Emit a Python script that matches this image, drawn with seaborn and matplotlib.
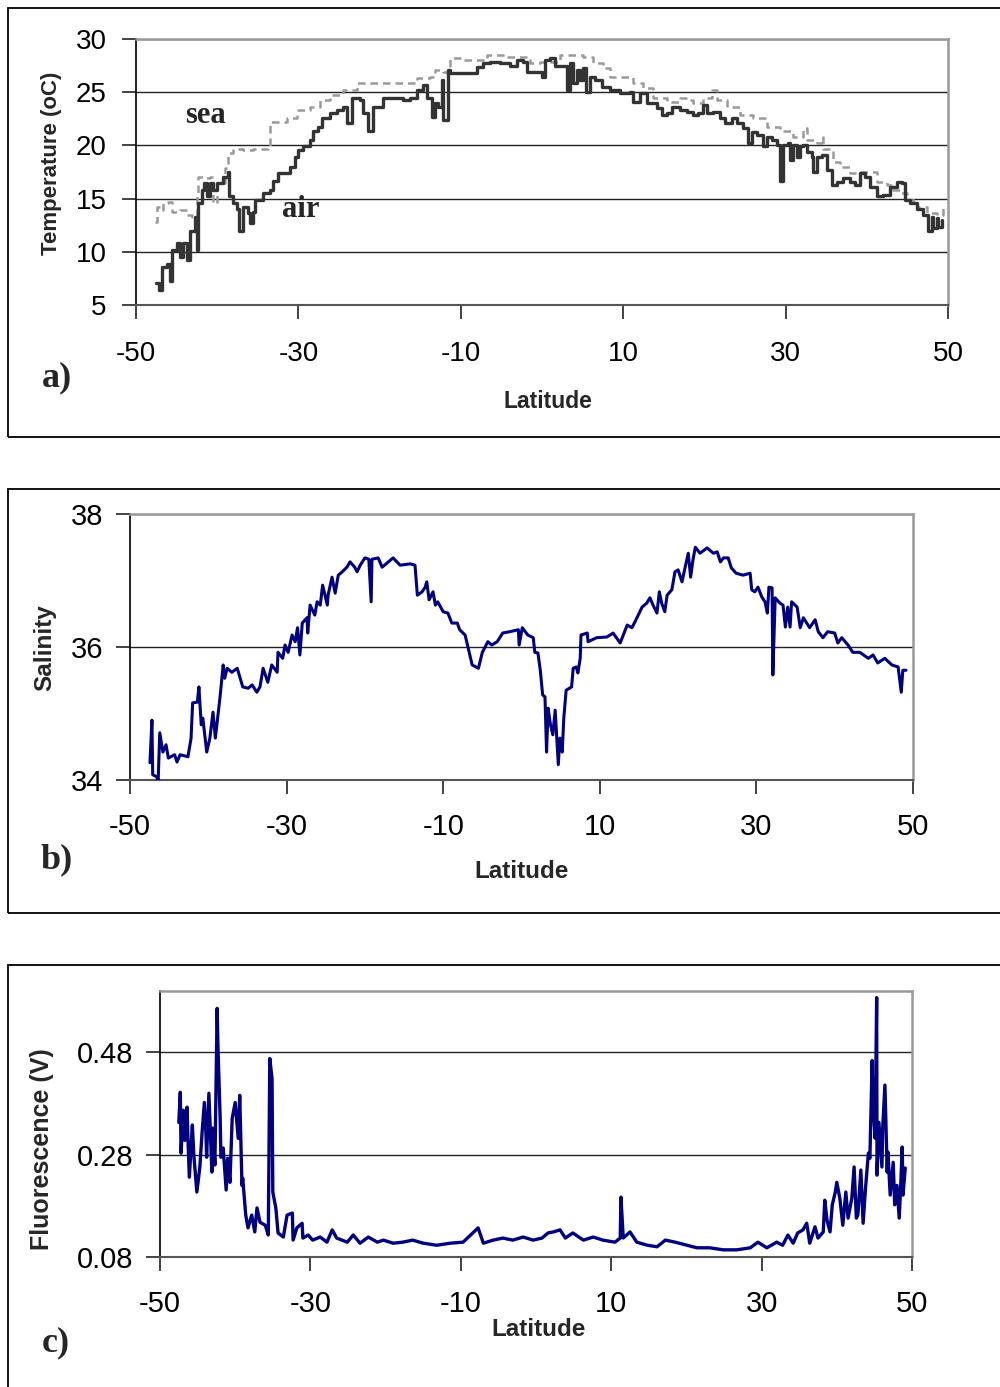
import matplotlib
matplotlib.use("Agg")
import matplotlib.pyplot as plt
import seaborn as sns
import pandas as pd
from matplotlib.patches import Rectangle

# ---------------- data ----------------
air_lat = [-47.5, -47.2, -46.8, -46.2, -45.8, -45.6, -45.0, -44.6, -44.2, -43.7, -43.3, -42.7, -42.5, -42.4,
           -41.9, -41.6, -41.3, -40.9, -40.5, -40.0, -39.3, -38.7, -38.5, -38.0, -37.6, -37.3, -36.8, -36.2,
           -36.0, -35.6, -35.3, -34.7, -34.4, -33.5, -33.1, -32.5, -31.9, -31.0, -30.4, -30.0, -29.4, -28.6,
           -28.2, -27.6, -27.1, -26.1, -25.3, -24.5, -24.0, -23.4, -22.4, -22.0, -21.4, -20.8, -19.6, -18.3,
           -17.1, -16.3, -15.4, -14.7, -14.2, -13.5, -13.2, -12.8, -12.3, -12.2, -11.6, -11.3, -10.1, -8.5,
           -8.0, -7.3, -6.4, -5.2, -3.9, -3.1, -2.3, -1.8, -0.2, 0.0, 0.4, 1.0, 1.6, 2.6, 3.1, 3.4, 3.8, 4.3,
           4.7, 5.0, 5.4, 5.9, 6.5, 7.4, 8.4, 9.6, 10.8, 11.2, 12.1, 12.9, 14.2, 14.8, 15.4, 16.0, 17.0, 17.9,
           18.6, 19.2, 19.8, 20.3, 21.1, 21.9, 22.5, 23.4, 24.0, 24.8, 25.4, 25.9, 26.5, 27.2, 27.7, 28.3,
           28.9, 29.3, 29.7, 30.3, 30.5, 30.9, 31.4, 31.8, 32.1, 32.6, 33.3, 33.4, 33.9, 34.5, 35.1, 35.7,
           36.3, 37.1, 37.9, 38.5, 39.2, 39.8, 40.4, 41.3, 42.0, 42.9, 43.7, 44.3, 44.7, 45.3, 46.2, 46.9,
           47.5, 48.0, 48.2, 48.6, 48.8, 49.2]
air_temp = [7.1, 6.4, 8.6, 8.9, 7.3, 10.2, 10.8, 9.5, 10.8, 9.2, 12.0, 13.3, 10.2, 14.6,
            15.8, 16.5, 15.2, 16.5, 15.8, 16.5, 17.0, 17.5, 15.2, 14.6, 14.0, 12.0, 14.2, 13.6,
            12.7, 13.7, 14.9, 14.9, 15.5, 15.8, 16.7, 17.4, 17.4, 18.0, 18.9, 19.6, 19.9, 20.5,
            21.4, 21.7, 22.6, 23.0, 23.3, 23.6, 22.1, 24.5, 24.3, 23.0, 21.4, 23.6, 24.5, 24.5,
            24.3, 24.5, 25.2, 25.7, 24.5, 22.7, 24.0, 23.6, 26.1, 22.4, 27.1, 26.8, 26.8, 26.8,
            27.4, 27.7, 27.8, 27.7, 27.5, 28.0, 27.8, 26.9, 26.9, 26.4, 28.0, 28.2, 27.5, 27.5, 25.2, 27.7, 25.9, 27.1,
            26.1, 27.3, 25.0, 26.4, 26.1, 25.5, 25.2, 24.9, 25.0, 24.1, 24.9, 24.0, 23.5, 22.9, 23.0, 23.6, 23.3, 23.1,
            22.9, 23.0, 23.8, 23.0, 23.1, 22.6, 22.1, 22.6, 22.1, 21.6, 20.2, 21.3, 21.0, 19.9, 20.8, 20.5,
            20.0, 16.7, 20.0, 20.2, 18.6, 20.0, 18.9, 19.9, 20.0, 19.4, 18.9, 17.5, 18.9, 19.1, 17.7, 16.3,
            16.6, 16.9, 16.6, 16.3, 17.4, 17.0, 16.1, 15.2, 15.3, 16.1, 16.6, 16.5, 14.9, 14.6, 14.0, 13.5,
            12.0, 13.3, 12.2, 13.2, 12.3, 13.0]

sea_lat = [-47.6, -47.4, -47.0, -46.7, -46.1, -45.6, -44.6, -43.7, -43.1, -42.5, -42.4, -41.7, -40.9, -40.5,
           -40.0, -39.0, -38.7, -38.1, -36.8, -35.6, -33.7, -33.5, -32.6, -31.4, -30.2, -28.6, -27.3, -26.1,
           -24.5, -22.8, -21.2, -18.7, -16.6, -15.4, -13.8, -13.2, -12.2, -11.3, -9.7, -8.0, -6.8, -4.8, -2.7,
           -1.5, -0.2, 2.2, 3.8, 5.0, 6.3, 7.5, 8.4, 9.6, 11.2, 12.4, 13.7, 15.4, 17.0, 17.9, 18.6, 19.8, 20.9,
           21.5, 22.8, 24.4, 26.0, 27.7, 29.3, 30.9, 32.1, 32.6, 33.9, 34.5, 34.6, 35.5, 35.8, 36.7, 37.9,
           39.2, 40.4, 41.3, 42.5, 43.2, 44.1, 45.0, 46.2, 47.4, 48.6, 49.4]
sea_temp = [12.8, 14.2, 13.9, 14.6, 14.7, 13.7, 13.9, 13.5, 13.3, 15.5, 17.0, 16.9, 17.0, 14.6,
            16.5, 17.9, 19.3, 19.7, 19.6, 19.7, 19.9, 22.2, 22.2, 22.6, 23.3, 23.6, 24.3, 24.7,
            25.2, 25.9, 25.9, 25.9, 25.9, 26.3, 26.4, 27.1, 26.9, 28.2, 28.0, 28.0, 28.5, 28.3, 28.3,
            27.7, 27.8, 28.5, 28.5, 28.3, 27.7, 27.3, 26.4, 26.4, 25.9, 25.4, 24.5, 24.1, 24.5, 24.3, 24.0, 24.5, 25.2,
            24.3, 23.6, 22.9, 22.6, 21.7, 21.4, 20.8, 21.6, 20.5, 20.2, 20.8, 19.7, 19.6, 18.4, 18.0, 17.4,
            17.5, 17.5, 16.6, 16.3, 15.8, 15.5, 14.9, 14.2, 13.6, 13.5, 14.2]

sal_lat = [-47.45, -47.2, -47.1, -46.6, -46.4, -46.2, -45.8, -45.4, -45.1, -44.3, -44.0, -43.6, -42.6, -42.2,
           -42.0, -41.4, -41.2, -40.9, -40.7, -40.2, -39.8, -39.4, -39.1, -38.5, -38.1, -37.9, -37.6, -37.0,
           -36.3, -35.6, -34.9, -34.4, -33.8, -33.4, -33.0, -32.4, -31.9, -31.2, -31.1, -30.5, -30.2, -29.8,
           -29.3, -28.9, -28.6, -28.3, -28.0, -27.4, -27.3, -27.0, -26.4, -26.1, -25.7, -25.4, -24.8, -24.7,
           -24.2, -23.8, -23.4, -22.9, -22.3, -21.9, -21.3, -21.0, -20.6, -20.0, -19.5, -19.2, -19.1, -18.3,
           -17.8, -17.2, -16.4, -15.5, -14.2, -13.6, -13.3, -12.7, -12.3, -12.1, -11.8, -11.3, -11.0, -10.7,
           -10.0, -9.4, -8.9, -8.2, -7.9, -7.2, -6.8, -6.3, -5.5, -5.0, -4.3, -3.8, -3.1, -2.4, -1.5, -0.4,
           -0.3, 0.1, 0.8, 1.5, 1.7, 2.1, 2.4, 2.7, 3.0, 3.2, 3.4, 3.7, 4.0, 4.3, 4.5, 4.7, 4.9, 5.2, 5.4,
           5.7, 6.4, 6.6, 7.0, 7.2, 7.5, 7.6, 8.4, 8.5, 9.6, 10.9, 11.7, 12.6, 13.5, 14.1, 14.5, 15.4, 16.0,
           16.4, 16.8, 17.3, 17.6, 17.9, 18.3, 18.6, 19.2, 19.6, 20.0, 20.5, 20.9, 21.3, 21.6, 21.9, 22.2,
           22.8, 23.7, 24.5, 25.0, 25.4, 25.8, 26.4, 26.8, 27.4, 28.3, 29.2, 29.4, 29.8, 30.2, 30.7, 31.1,
           31.4, 31.6, 32.0, 32.1, 32.4, 33.0, 33.4, 33.7, 34.0, 34.3, 34.5, 35.2, 35.6, 36.0, 36.8, 37.5,
           37.9, 38.5, 39.1, 40.0, 40.4, 40.9, 41.7, 42.3, 43.2, 44.3, 44.9, 45.5, 46.4, 47.3, 48.1, 48.5,
           48.7, 49.1]
sal_val = [34.26, 34.90, 34.08, 34.05, 34.00, 34.71, 34.42, 34.53, 34.33, 34.38, 34.27, 34.38, 34.35, 34.63,
           35.16, 35.17, 35.40, 34.83, 34.93, 34.42, 34.63, 35.02, 34.63, 35.25, 35.73, 35.53, 35.68, 35.62,
           35.68, 35.40, 35.38, 35.43, 35.32, 35.40, 35.68, 35.47, 35.73, 35.62, 35.92, 35.83, 36.03, 35.92,
           36.18, 36.08, 36.29, 35.88, 36.36, 36.44, 36.21, 36.63, 36.48, 36.68, 36.63, 36.93, 36.63, 36.78,
           37.05, 36.81, 37.08, 37.13, 37.20, 37.28, 37.20, 37.13, 37.23, 37.34, 37.32, 36.68, 37.32, 37.34,
           37.20, 37.26, 37.34, 37.23, 37.25, 37.23, 36.78, 36.83, 36.90, 36.98, 36.71, 36.83, 36.63, 36.68,
           36.53, 36.51, 36.36, 36.36, 36.26, 36.18, 35.98, 35.73, 35.68, 35.92, 36.08, 36.03, 36.08, 36.21, 36.23, 36.26,
           36.03, 36.29, 36.18, 36.14, 35.92, 35.91, 35.65, 35.28, 35.25, 34.42, 35.08, 34.83, 34.68, 35.05, 34.63, 34.23, 34.63, 34.42, 34.93,
           35.35, 35.40, 35.68, 35.70, 35.61, 35.83, 36.18, 36.21, 36.08, 36.14, 36.15, 36.21, 36.06, 36.33, 36.29, 36.38, 36.60, 36.66,
           36.74, 36.63, 36.51, 36.83, 36.66, 36.53, 36.78, 36.86, 37.13, 37.16, 36.98, 37.20, 37.41, 37.05, 37.31, 37.50,
           37.41, 37.49, 37.41, 37.43, 37.28, 37.34, 37.34, 37.19, 37.11, 37.08, 37.11, 36.86, 36.83, 36.90, 36.75, 36.68,
           36.51, 36.90, 36.89, 35.58, 36.74, 36.66, 36.63, 36.30, 36.60, 36.30, 36.68, 36.60, 36.29, 36.44, 36.29, 36.41,
           36.23, 36.14, 36.23, 36.21, 36.06, 36.14, 36.03, 35.92, 35.92, 35.83, 35.88, 35.76, 35.83, 35.73, 35.70, 35.32,
           35.65, 35.65]

flu_lat = [-47.5, -47.3, -47.2, -46.9, -46.7, -46.4, -46.3, -46.1, -45.7, -45.5, -45.1, -44.7, -44.4, -44.1,
           -43.9, -43.8, -43.5, -43.1, -43.0, -42.7, -42.4, -42.3, -42.0, -41.9, -41.6, -41.2, -41.0, -40.7,
           -40.4, -40.0, -39.6, -39.4, -39.1, -39.0, -38.6, -38.3, -37.8, -37.4, -37.1, -36.7, -36.0, -35.6,
           -35.4, -35.1, -35.0, -34.6, -34.3, -33.6, -33.1, -32.4, -32.3, -31.8, -31.1, -31.0, -30.3, -29.7,
           -28.7, -27.8, -27.1, -26.5, -25.1, -24.3, -23.4, -22.3, -21.1, -20.3, -19.0, -17.7, -16.4, -15.0,
           -13.2, -11.4, -9.7, -8.4, -7.7, -7.0, -5.7, -4.4, -3.1, -1.7, -0.4, 0.8, 1.6, 2.3, 3.2, 3.9, 4.9,
           6.3, 7.6, 8.9, 10.5, 11.2, 11.3, 11.6, 12.5, 13.4, 14.8, 16.1, 17.2, 18.5, 20.1, 21.4, 23.1, 24.9,
           26.7, 28.5, 29.5, 30.7, 32.0, 32.8, 33.5, 34.2, 34.8, 35.5, 36.0, 36.4, 37.1, 37.5, 38.2, 38.4,
           38.7, 39.1, 39.4, 39.8, 40.0, 40.4, 40.8, 41.2, 41.5, 42.0, 42.3, 42.6, 42.8, 43.2, 43.5, 43.8,
           44.2, 44.4, 44.7, 44.8, 45.1, 45.3, 45.35, 45.6, 46.0, 46.1, 46.4, 46.7, 46.8, 47.1, 47.5, 47.7,
           48.0, 48.3, 48.5, 48.7, 48.8, 49.1]
flu_val = [0.343, 0.402, 0.283, 0.367, 0.308, 0.373, 0.318, 0.236, 0.338, 0.279, 0.207, 0.256, 0.324, 0.382,
           0.324, 0.275, 0.400, 0.246, 0.332, 0.260, 0.566, 0.494, 0.351, 0.275, 0.293, 0.211, 0.273, 0.226,
           0.351, 0.382, 0.312, 0.396, 0.220, 0.234, 0.162, 0.137, 0.162, 0.129, 0.176, 0.148, 0.142, 0.123,
           0.468, 0.429, 0.207, 0.176, 0.127, 0.119, 0.162, 0.166, 0.113, 0.137, 0.146, 0.117, 0.123, 0.113,
           0.119, 0.109, 0.133, 0.117, 0.109, 0.123, 0.107, 0.119, 0.109, 0.113, 0.107, 0.109, 0.113, 0.107,
           0.103, 0.107, 0.109, 0.127, 0.137, 0.107, 0.113, 0.117, 0.113, 0.119, 0.113, 0.117, 0.127, 0.129, 0.133, 0.117, 0.127,
           0.113, 0.119, 0.113, 0.109, 0.117, 0.197, 0.117, 0.129, 0.109, 0.103, 0.100, 0.113, 0.109, 0.103, 0.098, 0.098, 0.094,
           0.094, 0.098, 0.109, 0.098, 0.109, 0.103, 0.123, 0.107, 0.127, 0.133, 0.146, 0.107, 0.139, 0.117, 0.129, 0.191,
           0.152, 0.129, 0.182, 0.207, 0.226, 0.195, 0.142, 0.207, 0.156, 0.195, 0.256, 0.156, 0.162, 0.250, 0.146, 0.211,
           0.283, 0.273, 0.464, 0.382, 0.312, 0.587, 0.240, 0.343, 0.256, 0.332, 0.416, 0.246, 0.285, 0.201, 0.265, 0.182,
           0.220, 0.156, 0.220, 0.295, 0.201, 0.254]

x_ticks = [-50, -30, -10, 10, 30, 50]
temp_ticks = [5, 10, 15, 20, 25, 30]
sal_ticks = [34, 36, 38]
flu_ticks = [0.08, 0.28, 0.48]
flu_tick_labels = ["0.08", "0.28", "0.48"]

# ---------------- style ----------------
sns.set_style("white")
plt.rcParams['font.family'] = ['Liberation Sans', 'DejaVu Sans']

W, H = 1000, 1387
fig = plt.figure(figsize=(W / 100, H / 100), dpi=100)


def px_axes(left, top, right, bottom):
    return fig.add_axes([left / W, 1 - bottom / H, (right - left) / W, (bottom - top) / H])


def style_axes(ax, xt, yt, ytl, fs, ypad, xpad):
    ax.set_xlim(-50, 50)
    ax.set_xticks(xt)
    ax.set_xticklabels([str(v) for v in xt])
    ax.set_yticks(yt)
    ax.set_yticklabels(ytl)
    ax.tick_params(axis='both', direction='out', length=10, width=1.2, color='#222222',
                   labelsize=fs, labelcolor='black')
    ax.tick_params(axis='y', pad=ypad, left=True)
    ax.tick_params(axis='x', pad=xpad, bottom=True)
    ax.grid(False)
    for v in yt:
        ax.axhline(v, color='#222222', lw=1.0, zorder=1)
    ax.spines['left'].set_color('#111111')
    ax.spines['left'].set_linewidth(1.3)
    ax.spines['bottom'].set_color('#555555')
    ax.spines['bottom'].set_linewidth(1.5)
    ax.spines['top'].set_color('#999999')
    ax.spines['top'].set_linewidth(1.8)
    ax.spines['right'].set_color('#999999')
    ax.spines['right'].set_linewidth(1.8)
    ax.set_xlabel("")
    ax.set_ylabel("")


def panel_box(top, bottom):
    fig.patches.append(Rectangle((8 / W, 1 - bottom / H), 1.0, (bottom - top) / H,
                                 transform=fig.transFigure, fill=False, edgecolor='black',
                                 lw=1.3, zorder=0))


# ---- panel a ----
panel_box(8, 437)
ax1 = px_axes(136, 39, 948, 305)
sea_df = pd.DataFrame({"lat": sea_lat, "val": sea_temp})
air_df = pd.DataFrame({"lat": air_lat, "val": air_temp})
sns.lineplot(data=sea_df, x="lat", y="val", ax=ax1, color='#9a9a9a', lw=1.8,
             estimator=None, sort=False, linestyle=(0, (3, 2)), drawstyle='steps-post', zorder=3)
sns.lineplot(data=air_df, x="lat", y="val", ax=ax1, color='#333333', lw=2.4,
             estimator=None, sort=False, drawstyle='steps-post', zorder=4)
ax1.set_ylim(5, 30)
style_axes(ax1, x_ticks, temp_ticks, [str(v) for v in temp_ticks], 20, 11, 16)
ax1.text(-41.4, 22.1, "sea", family='Liberation Serif', fontweight='bold', fontsize=22,
         ha='center', va='baseline', zorder=5)
ax1.text(-29.7, 13.27, "air", family='Liberation Serif', fontweight='bold', fontsize=22,
         ha='center', va='baseline', zorder=5)
fig.text(52 / W, 1 - 163 / H, "Temperature (oC)", rotation=90, ha='center', va='center',
         fontsize=16, fontweight='bold')
fig.text(548 / W, 1 - 402 / H, "Latitude", ha='center', va='center', fontsize=16.5, fontweight='bold')
fig.text(57 / W, 1 - 378 / H, "a)", ha='center', va='center', fontsize=26, fontweight='bold',
         family='Liberation Serif')

# ---- panel b ----
panel_box(489, 913)
ax2 = px_axes(130, 514, 913, 780)
sal_df = pd.DataFrame({"lat": sal_lat, "val": sal_val})
sns.lineplot(data=sal_df, x="lat", y="val", ax=ax2, color='#000080', lw=2.2,
             estimator=None, sort=False, zorder=3)
ax2.set_ylim(34, 38)
style_axes(ax2, x_ticks, sal_ticks, [str(v) for v in sal_ticks], 21, 9, 14)
fig.text(45 / W, 1 - 648 / H, "Salinity", rotation=90, ha='center', va='center',
         fontsize=17.5, fontweight='bold')
fig.text(522 / W, 1 - 871 / H, "Latitude", ha='center', va='center', fontsize=17.5, fontweight='bold')
fig.text(57 / W, 1 - 860 / H, "b)", ha='center', va='center', fontsize=26, fontweight='bold',
         family='Liberation Serif')

# ---- panel c ----
panel_box(965, 1400)
ax3 = px_axes(160, 991, 912, 1257)
flu_df = pd.DataFrame({"lat": flu_lat, "val": flu_val})
sns.lineplot(data=flu_df, x="lat", y="val", ax=ax3, color='#000080', lw=2.4,
             estimator=None, sort=False, zorder=3)
ax3.set_ylim(0.08, 0.6)
style_axes(ax3, x_ticks, flu_ticks, flu_tick_labels, 21, 9, 14)
fig.text(42 / W, 1 - 1149 / H, "Fluorescence (V)", rotation=90, ha='center', va='center',
         fontsize=18, fontweight='bold')
fig.text(539 / W, 1 - 1330 / H, "Latitude", ha='center', va='center', fontsize=17.5, fontweight='bold')
fig.text(56 / W, 1 - 1343 / H, "c)", ha='center', va='center', fontsize=26, fontweight='bold',
         family='Liberation Serif')

fig.savefig("out.png", dpi=100)
